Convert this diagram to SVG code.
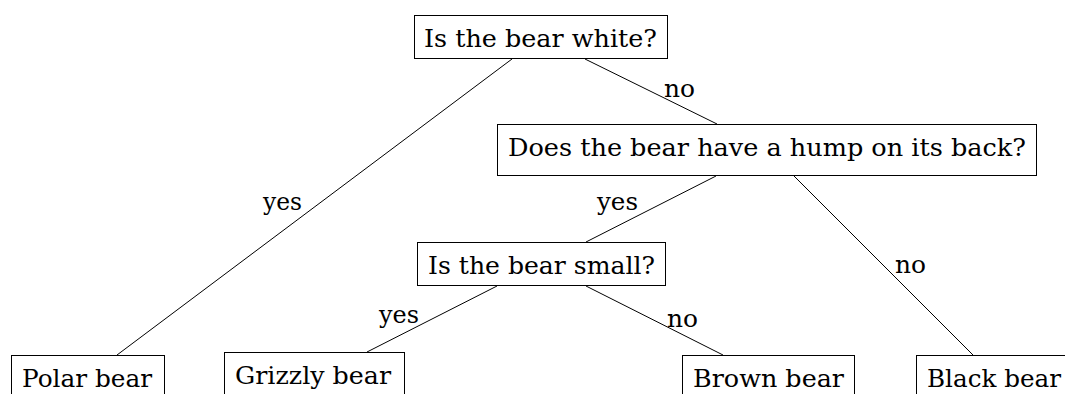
<svg xmlns="http://www.w3.org/2000/svg" width="1065" height="394" viewBox="0 0 1065 394">
<style>
.box{fill:#fff;stroke:#000;stroke-width:1}
.t{font-family:'DejaVu Serif','Liberation Serif',serif;font-size:25px;fill:#000}
.e{stroke:#000;stroke-width:1;fill:none}
</style>
<rect width="1065" height="394" fill="#fff"/>
<g id="connectors">
<line class="e" x1="512" y1="59" x2="117" y2="355"/>
<line class="e" x1="585" y1="59" x2="717" y2="124"/>
<line class="e" x1="716" y1="176" x2="586" y2="242"/>
<line class="e" x1="794" y1="176" x2="973" y2="355"/>
<line class="e" x1="497" y1="286" x2="367" y2="352"/>
<line class="e" x1="586" y1="286" x2="723" y2="355"/>
<text class="t" x="263" y="210" textLength="39" lengthAdjust="spacingAndGlyphs">yes</text>
<text class="t" x="664" y="97" textLength="31" lengthAdjust="spacingAndGlyphs">no</text>
<text class="t" x="597" y="210" textLength="41" lengthAdjust="spacingAndGlyphs">yes</text>
<text class="t" x="895" y="273" textLength="31" lengthAdjust="spacingAndGlyphs">no</text>
<text class="t" x="379" y="323" textLength="40" lengthAdjust="spacingAndGlyphs">yes</text>
<text class="t" x="667" y="327" textLength="31" lengthAdjust="spacingAndGlyphs">no</text>
</g>
<g id="white">
<rect class="box" x="414.5" y="15.5" width="253" height="43"/>
<text class="t" x="424" y="47" textLength="233" lengthAdjust="spacingAndGlyphs">Is the bear white?</text>
</g>
<g id="hump">
<rect class="box" x="497.5" y="124.5" width="539" height="51"/>
<text class="t" x="508" y="156" textLength="518" lengthAdjust="spacingAndGlyphs">Does the bear have a hump on its back?</text>
</g>
<g id="small">
<rect class="box" x="417.5" y="242.5" width="248" height="43"/>
<text class="t" x="428" y="274" textLength="227" lengthAdjust="spacingAndGlyphs">Is the bear small?</text>
</g>
<g id="polar">
<rect class="box" x="11.5" y="355.5" width="153" height="43"/>
<text class="t" x="22" y="387" textLength="130" lengthAdjust="spacingAndGlyphs">Polar bear</text>
</g>
<g id="grizzly">
<rect class="box" x="224.5" y="352.5" width="180" height="51"/>
<text class="t" x="235" y="384" textLength="156" lengthAdjust="spacingAndGlyphs">Grizzly bear</text>
</g>
<g id="brown">
<rect class="box" x="682.5" y="355.5" width="172" height="43"/>
<text class="t" x="693" y="387" textLength="151" lengthAdjust="spacingAndGlyphs">Brown bear</text>
</g>
<g id="black">
<rect class="box" x="916.5" y="355.5" width="158" height="43"/>
<text class="t" x="927" y="387" textLength="134" lengthAdjust="spacingAndGlyphs">Black bear</text>
</g>
</svg>
